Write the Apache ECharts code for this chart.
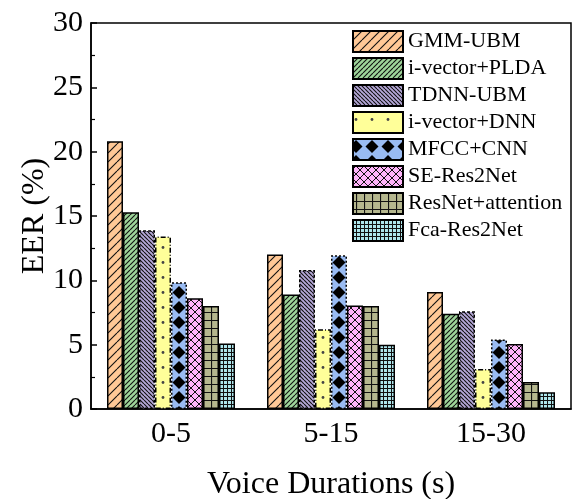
<!DOCTYPE html>
<html>
<head>
<meta charset="utf-8">
<script src="https://cdn.jsdelivr.net/npm/echarts@6/dist/echarts.min.js"></script>
<style>html,body{margin:0;padding:0;background:#fff}#c{width:576px;height:499px}</style>
</head>
<body>
<div id="c"></div>
<script>
const categories = ['0-5', '5-15', '15-30'];
const seriesNames = ['GMM-UBM', 'i-vector+PLDA', 'TDNN-UBM', 'i-vector+DNN', 'MFCC+CNN', 'SE-Res2Net', 'ResNet+attention', 'Fca-Res2Net'];
const gmmUbm = [20.8, 12.0, 9.1];
const ivecPlda = [15.3, 8.9, 7.4];
const tdnnUbm = [13.9, 10.8, 7.6];
const ivecDnn = [13.4, 6.2, 3.1];
const mfccCnn = [9.85, 11.95, 5.4];
const seRes2Net = [8.6, 8.05, 5.05];
const resnetAtt = [8.0, 8.0, 2.1];
const fcaRes2Net = [5.1, 5.0, 1.3];
const yTicks = [0, 5, 10, 15, 20, 25, 30];
const allValues = [gmmUbm, ivecPlda, tdnnUbm, ivecDnn, mfccCnn, seRes2Net, resnetAtt, fcaRes2Net];

const FONT = '"Liberation Serif", "Times New Roman", serif';

function tile(w, h, bg, draw) {
  const c = document.createElement('canvas');
  c.width = w; c.height = h;
  const g = c.getContext('2d');
  g.fillStyle = bg; g.fillRect(0, 0, w, h);
  g.strokeStyle = '#111'; g.fillStyle = '#111';
  draw(g, w, h);
  return c;
}
function slash(s, bg, dir, lw) {
  return tile(s, s, bg, (g) => {
    g.lineWidth = lw;
    g.beginPath();
    for (let k = -1; k <= 1; k++) {
      if (dir > 0) { g.moveTo(k * s, s); g.lineTo(k * s + s, 0); }
      else { g.moveTo(k * s, 0); g.lineTo(k * s + s, s); }
    }
    g.stroke();
  });
}
function cross(s, bg) {
  return tile(s, s, bg, (g) => {
    g.lineWidth = 1;
    g.beginPath();
    for (let k = -1; k <= 1; k++) {
      g.moveTo(k * s, s); g.lineTo(k * s + s, 0);
      g.moveTo(k * s, 0); g.lineTo(k * s + s, s);
    }
    g.stroke();
  });
}
function grid(s, bg, lw) {
  return tile(s, s, bg, (g) => {
    g.lineWidth = lw;
    g.beginPath();
    g.moveTo(0.5, 0); g.lineTo(0.5, s);
    g.moveTo(0, 0.5); g.lineTo(s, 0.5);
    g.stroke();
  });
}
function dots(bg) {
  return tile(16, 15, bg, (g) => {
    g.fillStyle = '#444';
    g.beginPath(); g.arc(8, 7.5, 1.4, 0, Math.PI * 2); g.fill();
  });
}
function diamonds(bg) {
  return tile(16, 15, bg, (g) => {
    g.fillStyle = '#000';
    g.beginPath();
    g.moveTo(8, 1); g.lineTo(14.5, 7.5); g.lineTo(8, 14); g.lineTo(1.5, 7.5); g.closePath();
    g.fill();
  });
}
function pat(canvas, x, y) { return { image: canvas, repeat: 'repeat', x: x || 0, y: y || 0 }; }

const fills = [
  pat(slash(9, '#FFC896', 1, 1.1)),
  pat(slash(5, '#9ED59A', 1, 1.1)),
  pat(slash(4, '#B5A8D8', -1, 1.1)),
  pat(dots('#FFFF99'), 11, 0),
  pat(diamonds('#99BBF2'), 11, 0),
  pat(cross(8, '#FFB3FA'), 3, 0),
  pat(grid(8, '#B5B78E', 1.2), 3, 0),
  pat(grid(4, '#AEE6EC', 1), 3, 0)
];
const borderTypes = ['solid', 'solid', [3, 2], [5, 2, 1, 2], [2, 2], 'solid', 'solid', 'solid'];

const series = seriesNames.map((name, i) => ({
  name: name,
  type: 'bar',
  data: allValues[i],
  barGap: '0%',
  barCategoryGap: '20%',
  itemStyle: { color: fills[i], borderColor: '#000', borderWidth: 1.5, borderType: borderTypes[i] },
  emphasis: { disabled: true }
}));

const chart = echarts.init(document.getElementById('c'), null, { renderer: 'canvas' });
chart.setOption({
  animation: false,
  backgroundColor: '#fff',
  grid: { left: 91, top: 23, width: 480, height: 386, show: true, borderColor: '#000', borderWidth: 1.5,
    backgroundColor: 'transparent', containLabel: false, outerBoundsMode: 'none' },
  legend: {
    orient: 'vertical', left: 352, top: 30, padding: 0,
    icon: 'rect', itemWidth: 50, itemHeight: 21, itemGap: 4,
    textStyle: { fontFamily: FONT, fontSize: 22, color: '#000', lineHeight: 21 },
    data: seriesNames
  },
  xAxis: {
    type: 'category', data: categories,
    name: 'Voice Durations (s)', nameLocation: 'middle', nameGap: 60,
    nameTextStyle: { fontFamily: FONT, fontSize: 32, color: '#000' },
    axisLine: { lineStyle: { color: '#000', width: 1.5 } },
    axisTick: { inside: true, length: 5, lineStyle: { color: '#000', width: 1.5 } },
    axisLabel: { fontFamily: FONT, fontSize: 30, color: '#000', margin: 10 }
  },
  yAxis: {
    type: 'value', min: 0, max: 30, interval: 5,
    name: 'EER (%)', nameLocation: 'middle', nameGap: 40, nameRotate: 90, nameMoveOverlap: false,
    nameTextStyle: { fontFamily: FONT, fontSize: 32, color: '#000' },
    axisLine: { show: true, lineStyle: { color: '#000', width: 1.5 } },
    axisTick: { show: true, inside: true, length: 6, lineStyle: { color: '#000', width: 1.5 } },
    minorTick: { show: true, splitNumber: 2, length: 4, lineStyle: { color: '#000', width: 1.2 } },
    splitLine: { show: false },
    axisLabel: { fontFamily: FONT, fontSize: 30, color: '#000', margin: 8,
      customValues: yTicks }
  },
  series: series
});
</script>
</body>
</html>
